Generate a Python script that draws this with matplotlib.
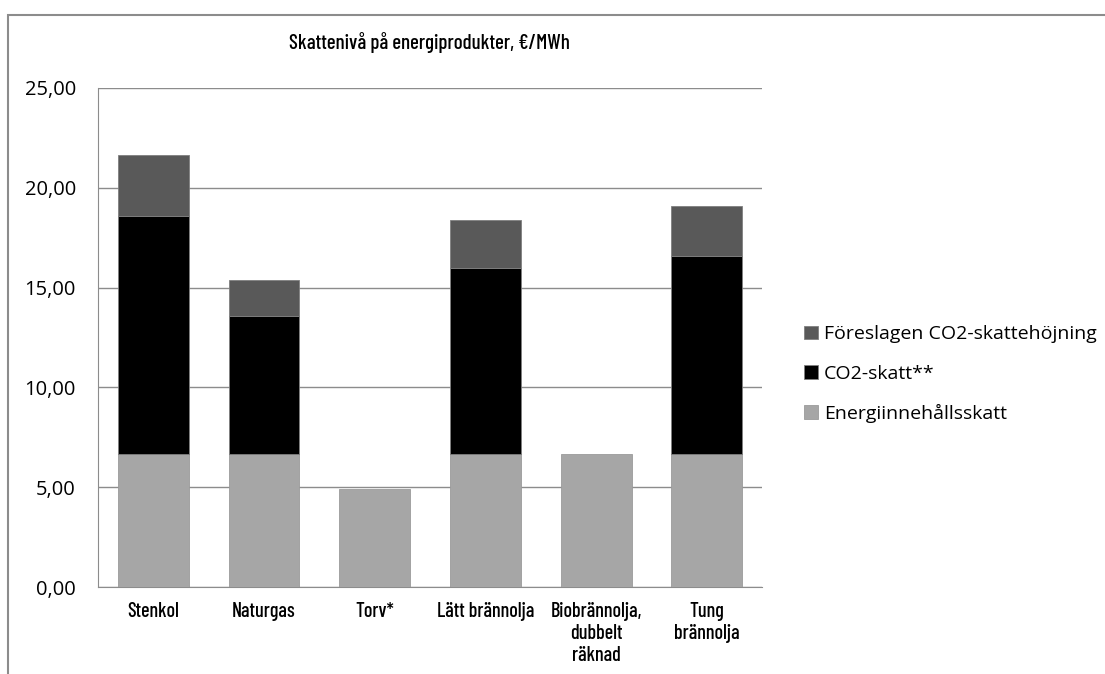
import matplotlib
matplotlib.use("Agg")
import matplotlib.pyplot as plt
from matplotlib.patches import Rectangle
from matplotlib.ticker import FuncFormatter

categories = ["Stenkol", "Naturgas", "Torv*", "Lätt brännolja",
              "Biobrännolja,\ndubbelt\nräknad", "Tung\nbrännolja"]
energi = [6.66, 6.66, 4.91, 6.66, 6.66, 6.66]
co2 = [11.93, 6.92, 0.0, 9.32, 0.0, 9.92]
hojning = [3.05, 1.80, 0.0, 2.41, 0.0, 2.51]
series_names = ["Energiinnehållsskatt", "CO2-skatt**", "Föreslagen CO2-skattehöjning"]
colors = ["#A6A6A6", "#000000", "#595959"]

fig = plt.figure(figsize=(11.05, 6.74), dpi=100)
ax = fig.add_axes([0.0887, 0.129, 0.601, 0.7405])

x = list(range(len(categories)))
w = 0.64
b1 = ax.bar(x, energi, w, color=colors[0], edgecolor="#9A9A9A", linewidth=0.6, label=series_names[0], zorder=3)
bottom2 = energi
b2 = ax.bar(x, co2, w, bottom=bottom2, color=colors[1], edgecolor="#7F7F7F", linewidth=0.6, label=series_names[1], zorder=3)
bottom3 = [a + b for a, b in zip(energi, co2)]
b3 = ax.bar(x, hojning, w, bottom=bottom3, color=colors[2], edgecolor="#7F7F7F", linewidth=0.6, label=series_names[2], zorder=3)
for bars, vals in ((b2, co2), (b3, hojning)):
    for r, v in zip(bars, vals):
        if v == 0:
            r.set_visible(False)

ax.set_xlim(-0.5, len(categories) - 0.5)
ax.set_ylim(0, 25)
ax.set_yticks([0, 5, 10, 15, 20, 25])
ax.yaxis.set_major_formatter(FuncFormatter(lambda v, p: f"{v:.2f}".replace(".", ",")))
ax.grid(axis="y", color="#8C8C8C", linewidth=1.0, zorder=0)
for s in ["top", "right"]:
    ax.spines[s].set_visible(False)
ax.spines["left"].set_color("#8C8C8C")
ax.spines["bottom"].set_color("#8C8C8C")
ax.tick_params(axis="y", length=0, pad=16, labelsize=14.5, labelcolor="#000000")
ax.tick_params(axis="x", length=0, pad=11)
ax.set_xticks(x)
ax.set_xticklabels(categories, fontsize=14.5, fontweight="medium",
                   family=["Barlow Condensed", "Lato", "DejaVu Sans"], linespacing=1.2)
for lab in ax.get_yticklabels():
    lab.set_family(["Open Sans", "DejaVu Sans"])

fig.text(0.389, 0.937, "Skattenivå på energiprodukter, €/MWh", ha="center", va="center",
         fontsize=15, fontweight="medium",
         family=["Barlow Condensed", "Lato", "DejaVu Sans"])

handles = [b3, b2, b1]
leg = fig.legend(handles, [series_names[2], series_names[1], series_names[0]],
                 loc="center left", bbox_to_anchor=(0.712, 0.445), frameon=False,
                 handlelength=0.7, handleheight=0.7, handletextpad=0.3,
                 labelspacing=1.1, prop={"family": ["Open Sans", "DejaVu Sans"], "size": 14})

fig.patches.append(Rectangle((8 / 1105, -0.1), 1.2, 1 - 15 / 674 + 0.1, transform=fig.transFigure,
                             fill=False, edgecolor="#8C8C8C", linewidth=1.5))

fig.savefig("out.png", dpi=100)
